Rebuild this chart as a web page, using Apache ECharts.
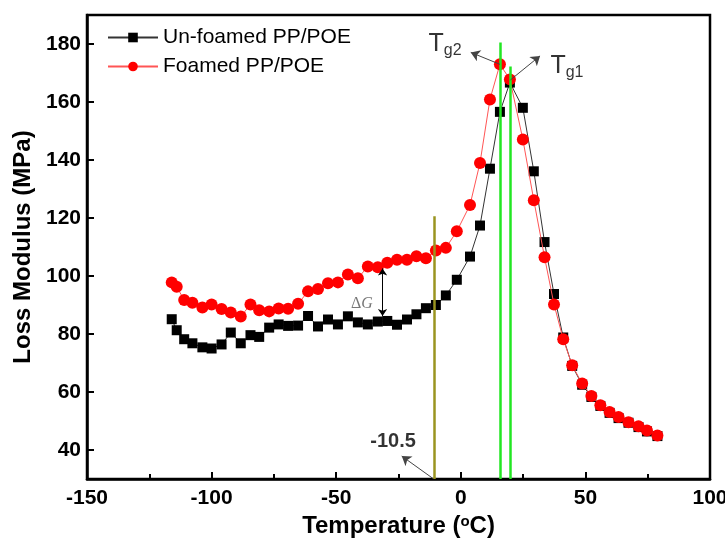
<!DOCTYPE html>
<html>
<head>
<meta charset="utf-8">
<script src="https://cdn.jsdelivr.net/npm/echarts@6/dist/echarts.min.js"></script>
<style>
  html, body { margin: 0; padding: 0; background: #fff; }
  #chart { width: 725px; height: 541px; }
</style>
</head>
<body>
<div id="chart"></div>
<script>
// temperatures (oC), shared by both curves
var temps = [-116, -114, -111, -107.7, -103.7, -100, -96, -92.3, -88.3, -84.4,
  -80.9, -76.9, -73.1, -69.3, -65.3, -61.3, -57.3, -53.3, -49.3, -45.3,
  -41.3, -37.3, -33.3, -29.5, -25.6, -21.6, -17.8, -14, -10, -6,
  -1.6, 3.7, 7.7, 11.7, 15.7, 19.7, 24.9, 29.3, 33.6, 37.4,
  41.1, 44.7, 48.7, 52.4, 56, 59.7, 63.3, 67.3, 71.3, 74.7, 78.9];

// loss modulus (MPa)
var unfoamed = [85.1, 81.3, 78.2, 76.8, 75.4, 75.0, 76.4, 80.5, 76.8, 79.6,
  79.0, 82.2, 83.3, 82.8, 82.9, 86.2, 82.6, 85.0, 83.3, 86.1,
  84.0, 83.3, 84.3, 84.5, 83.2, 85.0, 86.8, 88.9, 90.0, 93.3,
  98.7, 106.7, 117.4, 137.0, 156.6, 166.7, 158.0, 136.1, 111.7, 93.8,
  78.8, 69.0, 62.5, 58.3, 55.2, 52.8, 51.0, 49.4, 47.9, 46.4, 44.8];

var foamed = [97.8, 96.3, 91.7, 90.8, 89.1, 90.2, 88.6, 87.4, 86.0, 90.2,
  88.2, 87.8, 88.8, 88.7, 90.4, 94.7, 95.5, 97.5, 97.8, 100.5,
  99.2, 103.3, 103.0, 104.6, 105.6, 105.6, 106.8, 106.1, 108.8, 109.7,
  115.4, 124.5, 139.0, 160.9, 173.0, 167.8, 147.1, 126.1, 106.5, 90.2,
  78.2, 69.2, 62.9, 58.6, 55.4, 53.1, 51.4, 49.6, 48.2, 46.7, 45.0];

var yTicks = [40, 60, 80, 100, 120, 140, 160, 180];

// annotation values
var tgTemps = [16, 20];          // Tg2, Tg1 lines
var tgTops = [180.5, 172.2];
var refTemp = -10.5;
var refTop = 120.6;

var FONT = 'Arial, "Liberation Sans", sans-serif';

var chart = echarts.init(document.getElementById('chart'));

function pairs(xs, ys) {
  return xs.map(function (x, i) { return [x, ys[i]]; });
}

var option = {
  animation: false,
  backgroundColor: '#fff',
  grid: {
    left: 87, right: 15, top: 15, bottom: 62,
    containLabel: false,
    outerBoundsMode: 'none',
    show: true, borderColor: '#000', borderWidth: 2.5
  },
  legend: {
    data: ['Un-foamed PP/POE', 'Foamed PP/POE'],
    orient: 'vertical',
    left: 107, top: 27,
    padding: 0,
    itemGap: 8,
    itemWidth: 50, itemHeight: 12,
    textStyle: { fontFamily: FONT, fontSize: 21, color: '#000' }
  },
  xAxis: {
    type: 'value',
    min: -150, max: 100, interval: 50,
    name: '{a|Temperature (}{s|o}{a|C)}',
    nameLocation: 'middle',
    nameGap: 33,
    nameTextStyle: {
      rich: {
        a: { fontFamily: FONT, fontSize: 24, fontWeight: 'bold', color: '#000' },
        s: { fontFamily: FONT, fontSize: 15, fontWeight: 'bold', color: '#000', padding: [0, 0, 10, 0] }
      }
    },
    axisLine: { onZero: false, lineStyle: { color: '#000', width: 2.5 } },
    axisTick: { inside: true, length: 7, lineStyle: { width: 2 } },
    minorTick: { show: true, splitNumber: 2, length: 5, lineStyle: { color: '#000', width: 2 } },
    splitLine: { show: false },
    axisLabel: { margin: 9, fontFamily: FONT, fontSize: 21, fontWeight: 'bold', color: '#000' }
  },
  yAxis: {
    type: 'value',
    min: 30, max: 190,
    name: 'Loss Modulus (MPa)',
    nameLocation: 'middle',
    nameGap: 50,
    nameTextStyle: { fontFamily: FONT, fontSize: 24, fontWeight: 'bold', color: '#000' },
    axisLine: { onZero: false, lineStyle: { color: '#000', width: 2.5 } },
    axisTick: { inside: true, length: 7, lineStyle: { width: 2 }, customValues: yTicks },
    splitLine: { show: false },
    axisLabel: { margin: 6, fontFamily: FONT, fontSize: 21, fontWeight: 'bold', color: '#000', customValues: yTicks }
  },
  series: [
    {
      name: 'Un-foamed PP/POE',
      type: 'line',
      data: pairs(temps, unfoamed),
      symbol: 'rect', symbolSize: 10,
      itemStyle: { color: '#000' },
      lineStyle: { color: '#333', width: 1 },
      z: 3
    },
    {
      name: 'Foamed PP/POE',
      type: 'line',
      data: pairs(temps, foamed),
      symbol: 'circle', symbolSize: 12,
      itemStyle: { color: '#ff0000' },
      lineStyle: { color: '#ff5555', width: 1 },
      z: 4
    },
    {
      // vertical reference lines
      type: 'lines',
      coordinateSystem: 'cartesian2d',
      silent: true,
      z: 5,
      data: [
        { coords: [[refTemp, 30], [refTemp, refTop]], lineStyle: { color: '#9a9420', width: 2.5, opacity: 1 } },
        { coords: [[tgTemps[0], 30], [tgTemps[0], tgTops[0]]], lineStyle: { color: '#22e622', width: 2.5, opacity: 1 } },
        { coords: [[tgTemps[1], 30], [tgTemps[1], tgTops[1]]], lineStyle: { color: '#22e622', width: 2.5, opacity: 1 } }
      ]
    },
    {
      // pointer arrows
      type: 'lines',
      coordinateSystem: 'cartesian2d',
      silent: true,
      z: 6,
      symbol: ['none', 'arrow'],
      symbolSize: 9,
      lineStyle: { color: '#444', width: 1, opacity: 1 },
      data: [
        { coords: [[15.7, 173], [4, 177.1]] },
        { coords: [[19.9, 167.6], [31.8, 175.9]] },
        { coords: [[-11.2, 30.2], [-23.7, 37.9]] }
      ]
    },
    {
      // delta G double arrow
      type: 'lines',
      coordinateSystem: 'cartesian2d',
      silent: true,
      z: 6,
      symbol: ['arrow', 'arrow'],
      symbolSize: 7,
      lineStyle: { color: '#000', width: 1, opacity: 1 },
      data: [{ coords: [[-31.4, 102.6], [-31.4, 86.2]] }]
    },
    {
      // text annotations
      type: 'scatter',
      silent: true,
      symbolSize: 1,
      itemStyle: { color: 'rgba(0,0,0,0)' },
      z: 7,
      label: {
        show: true,
        position: 'inside',
        formatter: function (p) { return p.data.text; },
        rich: {
          t: { fontFamily: FONT, fontSize: 25, color: '#000' },
          s: { fontFamily: FONT, fontSize: 16, color: '#000', padding: [14, 0, 0, 0] },
          n: { fontFamily: FONT, fontSize: 20, fontWeight: 'bold', color: '#000' },
          d: { fontFamily: '"Liberation Serif", "DejaVu Serif", serif', fontSize: 16, color: '#555' },
          g: { fontFamily: '"Liberation Serif", "DejaVu Serif", serif', fontSize: 16, fontStyle: 'italic', color: '#555' }
        }
      },
      data: [
        { value: [-6.3, 180], text: '{t|T}{s|g2}' },
        { value: [42.6, 172.4], text: '{t|T}{s|g1}' },
        { value: [-27.2, 42.8], text: '{n|-10.5}' },
        { value: [-39.7, 90.3], text: '{d|\u0394}{g|G}' }
      ]
    }
  ]
};

chart.setOption(option);
</script>
</body>
</html>
